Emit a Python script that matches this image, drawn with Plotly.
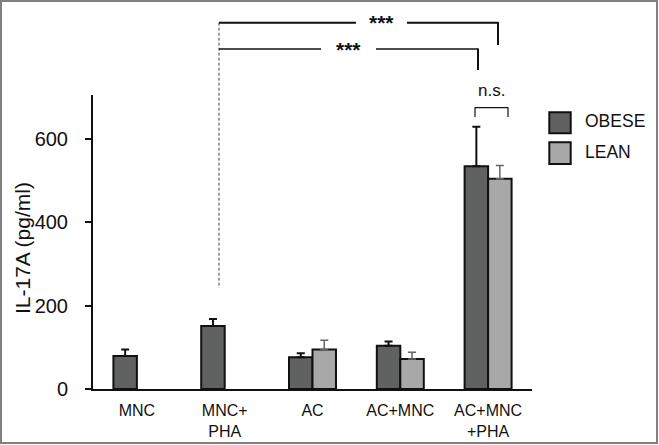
import plotly.graph_objects as go

categories = ["MNC", "MNC+<br>PHA", "AC", "AC+MNC", "AC+MNC<br>+PHA"]
obese = [79, 151, 76, 104, 534]
obese_err = [16, 17, 10, 10, 95]
lean = [None, None, 95, 72, 504]
lean_err = [None, None, 22, 16, 32]
y_ticks = [0, 200, 400, 600]

W, H = 659, 445
L, R, T, B = 93, 532, 95, 389  # plot area in pixels


def xp(px):
    return (px - L) / (R - L)


def yp(py):
    return (B - py) / (B - T)


fig = go.Figure()
fig.add_trace(go.Bar(
    x=list(range(len(categories))), y=obese, name="OBESE",
    marker=dict(color="#606161", line=dict(color="#111111", width=2)),
    error_y=dict(type="data", array=obese_err, symmetric=False, arrayminus=[0] * 5,
                 color="#111111", thickness=2, width=4),
))
fig.add_trace(go.Bar(
    x=list(range(len(categories))), y=lean, name="LEAN",
    marker=dict(color="#a8a8a8", line=dict(color="#111111", width=2)),
    error_y=dict(type="data", array=lean_err, symmetric=False, arrayminus=[0] * 5,
                 color="#666666", thickness=1.5, width=4),
))

shapes = []
# frame
shapes.append(dict(type="rect", xref="paper", yref="paper",
                   x0=xp(1), x1=xp(657), y0=yp(1), y1=yp(443),
                   line=dict(color="#808080", width=2)))


def seg(x0, y0, x1, y1, width=1.5, dash="solid", color="#111111"):
    shapes.append(dict(type="line", xref="paper", yref="paper",
                       x0=xp(x0), x1=xp(x1), y0=yp(y0), y1=yp(y1),
                       line=dict(color=color, width=width, dash=dash)))


# dashed line from MNC+PHA
seg(219, 22.7, 219, 288, width=1, dash="3px,2px", color="#444444")
# outer bracket
seg(219, 22.7, 356, 22.7, width=2)
seg(407, 22.7, 498, 22.7, width=2)
seg(498, 22, 498, 45, width=2)
# inner bracket
seg(219, 49, 321, 49, width=1.5)
seg(376, 49, 478, 49, width=1.5)
seg(478, 48.5, 478, 70, width=2)
# n.s. bracket
seg(475, 107.7, 508, 107.7, width=1.2)
seg(475, 107.2, 475, 117, width=1.2)
seg(508, 107.2, 508, 117, width=1.2)

# legend squares
for (y0, y1, col) in [(112.3, 133.3, "#606161"), (142.3, 164, "#a8a8a8")]:
    shapes.append(dict(type="rect", xref="paper", yref="paper",
                       x0=xp(549.3), x1=xp(570.7), y0=yp(y1), y1=yp(y0),
                       fillcolor=col, line=dict(color="#111111", width=2)))

annotations = [
    dict(text="<b>***</b>", x=xp(381.5), y=yp(23), xref="paper", yref="paper",
         showarrow=False, font=dict(size=21, color="#111111", family="Liberation Sans"),
         xanchor="center", yanchor="middle"),
    dict(text="<b>***</b>", x=xp(348.5), y=yp(49), xref="paper", yref="paper",
         showarrow=False, font=dict(size=21, color="#111111", family="Liberation Sans"),
         xanchor="center", yanchor="middle"),
    dict(text="n.s.", x=xp(491), y=yp(90), xref="paper", yref="paper",
         showarrow=False, font=dict(size=17, color="#111111", family="Liberation Sans"),
         xanchor="center", yanchor="middle"),
    dict(text="OBESE", x=xp(583), y=yp(121), xref="paper", yref="paper",
         showarrow=False, font=dict(size=17.5, color="#111111", family="Liberation Sans"),
         xanchor="left", yanchor="middle"),
    dict(text="LEAN", x=xp(583), y=yp(152), xref="paper", yref="paper",
         showarrow=False, font=dict(size=17.5, color="#111111", family="Liberation Sans"),
         xanchor="left", yanchor="middle"),
    dict(text="IL-17A (pg/ml)", x=xp(22), y=yp(248), xref="paper", yref="paper",
         showarrow=False, textangle=-90,
         font=dict(size=21, color="#111111", family="Liberation Sans"),
         xanchor="center", yanchor="middle"),
]

fig.update_layout(
    width=W, height=H,
    margin=dict(l=L, r=W - R, t=T, b=H - B, pad=0, autoexpand=False),
    paper_bgcolor="white", plot_bgcolor="white",
    barmode="group", bargap=0.465, bargroupgap=0,
    showlegend=False,
    font=dict(family="Liberation Sans", color="#111111"),
    shapes=shapes, annotations=annotations,
    xaxis=dict(range=[-0.5, 4.5], tickmode="array",
               tickvals=list(range(len(categories))), ticktext=categories,
               showline=True, linecolor="#111111", linewidth=2,
               ticks="", showgrid=False, zeroline=False, automargin=False,
               tickfont=dict(size=16), ticklabelstandoff=6),
    yaxis=dict(range=[0, 705], tickmode="array", tickvals=y_ticks,
               showline=True, linecolor="#111111", linewidth=2,
               ticks="outside", ticklen=6, tickwidth=2, tickcolor="#111111",
               showgrid=False, zeroline=False, automargin=False,
               tickfont=dict(size=20), ticklabelstandoff=13),
)

post = (
    "var h=document.documentElement.style;h.margin='0';h.padding='0';"
    "h.overflow='hidden';"
    "var b=document.body.style;b.margin='0';b.padding='0';b.overflow='hidden';"
    "var d=document.getElementById('{plot_id}');"
    "d.style.position='fixed';d.style.left='0';d.style.top='0';"
)

fig.write_html("out.html", config={"displayModeBar": False}, post_script=post)
